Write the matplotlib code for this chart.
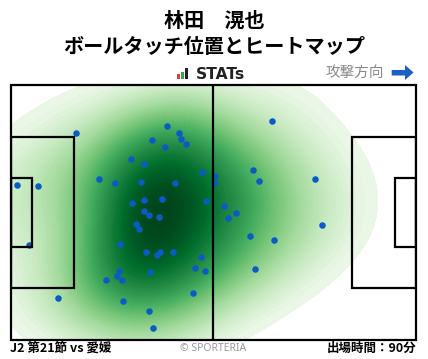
import numpy as np
import matplotlib
matplotlib.use('Agg')
import matplotlib.pyplot as plt
import seaborn as sns
from matplotlib.colors import ListedColormap
from matplotlib.patches import Rectangle, Polygon

plt.rcParams['font.family'] = ['Noto Sans CJK JP', 'DejaVu Sans']

W, H = 428, 359

# ball touch positions (metres, pitch 105 x 68, attacking left -> right)
touch_x = [17.0, 1.7, 7.2, 4.8, 12.3, 40.6, 43.7, 44.2, 45.5, 36.7,
           40.1, 31.2, 34.6, 49.6, 53.0, 52.7, 23.0, 27.1, 33.8, 42.6,
           31.5, 34.6, 39.3, 50.7, 34.6, 35.9, 38.5, 32.5, 33.3, 28.4,
           35.1, 38.8, 38.0, 42.1, 49.4, 28.1, 27.6, 28.9, 24.8, 36.2,
           47.8, 50.4, 47.3, 29.2, 35.9, 36.9, 67.7, 62.8, 64.4, 78.9,
           55.3, 58.4, 56.4, 80.7, 62.1, 68.3, 63.4]
touch_y = [55.1, 41.2, 40.9, 25.2, 11.1, 56.9, 55.1, 53.5, 52.1, 53.2,
           51.3, 48.1, 46.8, 44.7, 43.6, 41.7, 42.8, 41.7, 42.0, 41.7,
           36.4, 37.2, 37.5, 36.9, 34.3, 33.2, 32.7, 30.8, 29.5, 25.5,
           23.4, 23.4, 22.6, 23.4, 22.0, 18.3, 17.0, 15.9, 15.9, 18.0,
           19.1, 18.3, 12.4, 10.3, 7.6, 3.1, 58.3, 45.2, 42.3, 42.8,
           35.6, 33.8, 32.4, 30.6, 27.6, 26.6, 18.8]

player = '林田　滉也'
title = 'ボールタッチ位置とヒートマップ'
match = 'J2 第21節 vs 愛媛'
minutes = '出場時間：90分'


def fx(px):
    return px / W


def fy(py):
    return 1 - py / H


# Greens, pushed a little so mid densities read darker
greens = ListedColormap(plt.get_cmap('Greens')(np.linspace(0.03, 1, 256) ** 0.75))

fig = plt.figure(figsize=(W / 100, H / 100), dpi=100)

ax = fig.add_axes([fx(10.7), fy(340), (416 - 10.7) / W, (340 - 84.7) / H])
sns.kdeplot(x=touch_x, y=touch_y, fill=True, cmap=greens, levels=100,
            thresh=0.012, bw_adjust=1.4, clip=((0, 105), (0, 68)), ax=ax)
ax.scatter(touch_x, touch_y, s=22, color='#0a5bc4', linewidths=0, zorder=5)

# pitch markings
lw = 1.6
ax.add_patch(Rectangle((0, 0), 105, 68, fill=False, lw=lw, ec='black', zorder=6, clip_on=False))
ax.plot([52.5, 52.5], [0, 68], color='black', lw=lw, zorder=6)
for x0 in (0, 105 - 16.5):
    ax.add_patch(Rectangle((x0, 34 - 20.16), 16.5, 40.32, fill=False, lw=lw, ec='black', zorder=6))
for x0 in (0, 105 - 5.5):
    ax.add_patch(Rectangle((x0, 34 - 9.16), 5.5, 18.32, fill=False, lw=lw, ec='black', zorder=6))
ax.set_xlim(0, 105)
ax.set_ylim(0, 68)
ax.axis('off')

# titles
fig.text(0.5, fy(20.7), player, ha='center', va='center', fontsize=14.5, fontweight='bold')
fig.text(0.5, fy(46.3), title, ha='center', va='center', fontsize=14.5, fontweight='bold')

# STATs logo
for x0, top, c in [(176.5, 74, '#e0393e'), (180.5, 72, '#2ea84b'), (184.5, 68.3, '#222222')]:
    fig.add_artist(Rectangle((fx(x0), fy(79.3)), 3.6 / W, (79.3 - top) / H,
                             transform=fig.transFigure, color=c, lw=0))
fig.text(fx(196), fy(79.3), 'STATs', ha='left', va='baseline', fontsize=11.2,
         fontweight='bold', family='DejaVu Sans', color='#222222')

# attack direction
fig.text(fx(384), fy(72.5), '攻撃方向', ha='right', va='center', fontsize=10.5, color='#888888')
arrow = [(391.7, 70), (405, 70), (405, 65), (413.5, 72.5), (405, 80), (405, 75.5), (391.7, 75.5)]
fig.add_artist(Polygon([(fx(a), fy(b)) for a, b in arrow], closed=True,
                       transform=fig.transFigure, color='#1a5fc6', lw=0))

# footer
fig.text(fx(10), fy(348.5), match, ha='left', va='center', fontsize=9, fontweight='bold')
fig.text(fx(213.5), fy(348.5), '© SPORTERIA', ha='center', va='center', fontsize=7.5,
         color='#999999', family=['Noto Sans', 'DejaVu Sans'])
fig.text(fx(416), fy(348.5), minutes, ha='right', va='center', fontsize=9, fontweight='bold')

fig.savefig('out.png', dpi=100)
